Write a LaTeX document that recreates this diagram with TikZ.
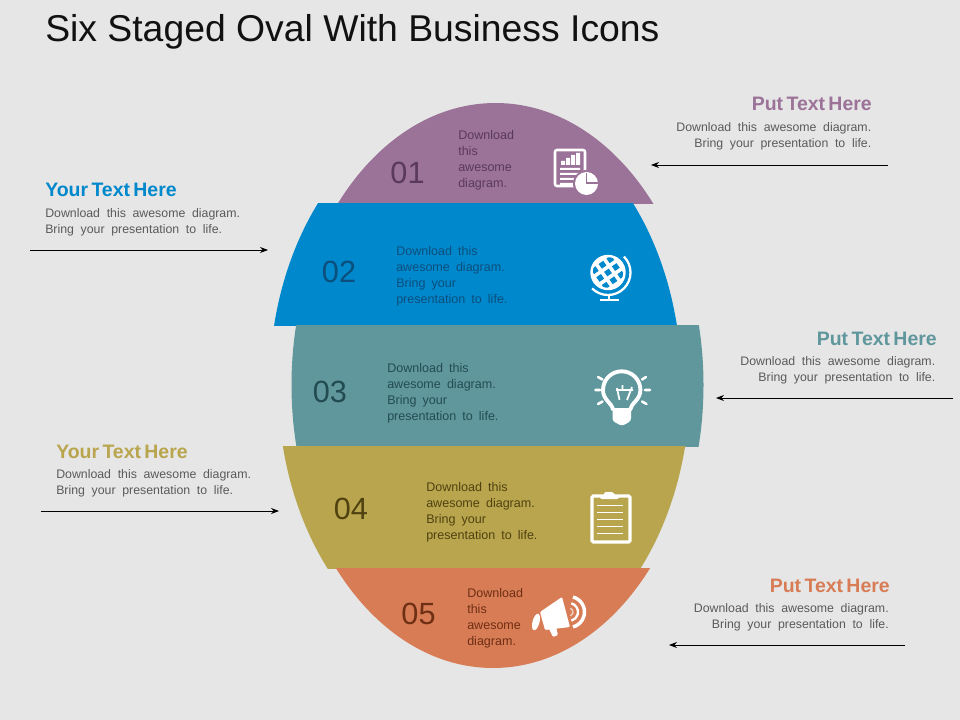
\documentclass[tikz,border=0pt]{standalone}
\usepackage{fontspec}
\setmainfont{Liberation Sans}
\definecolor{bgc}{HTML}{E6E6E6}
\definecolor{c1}{HTML}{9B7298}
\definecolor{c2}{HTML}{0088CC}
\definecolor{c3}{HTML}{5F979C}
\definecolor{c4}{HTML}{B9A54D}
\definecolor{c5}{HTML}{D87C55}
\definecolor{t1}{HTML}{5A3A5C}
\definecolor{t2}{HTML}{0B4F7C}
\definecolor{t3}{HTML}{234B52}
\definecolor{t4}{HTML}{4F4210}
\definecolor{t5}{HTML}{6E2F14}
\definecolor{bodyg}{HTML}{5A5A5A}
\definecolor{titlec}{HTML}{111111}
\newcommand{\bandband}[5]{%
  \begin{scope}\clip (0,#2) rectangle (960,#3);
  \fill[#1] (#4,385) ellipse [x radius=206, y radius=#5];\end{scope}}
\tikzset{
  x=0.75pt,y=-0.75pt,
  num/.style={font=\fontsize{23}{23}\selectfont,inner sep=0pt},
  bandtxt/.style={font={\fontsize{9.4}{12}\selectfont\spaceskip 4.6pt\relax},align=left,anchor=north west,inner sep=0pt},
  headr/.style={font={\fontsize{14.6}{16}\bfseries\selectfont\spaceskip 2.5pt\relax},anchor=base east,inner sep=0pt},
  headl/.style={font={\fontsize{14.6}{16}\bfseries\selectfont\spaceskip 2.5pt\relax},anchor=base west,inner sep=0pt},
  descr/.style={font={\fontsize{9.25}{12}\selectfont\spaceskip 5pt\relax},text=bodyg,align=right,anchor=north east,inner sep=0pt},
  descl/.style={font={\fontsize{9.25}{12}\selectfont\spaceskip 5pt\relax},text=bodyg,align=left,anchor=north west,inner sep=0pt},
  pointer/.style={-{Stealth[length=6pt,width=4.5pt]},line width=0.6pt,black},
  ico/.style={white,line width=1.9pt},
}
\usetikzlibrary{arrows.meta}
\begin{document}
\begin{tikzpicture}
\useasboundingbox (0,0) rectangle (960,720);
\fill[bgc] (0,0) rectangle (960,720);
\node[font=\fontsize{28}{30}\selectfont,anchor=base west,inner sep=0pt,text=titlec] (title) at (45,41.5) {Six Staged Oval With Business Icons};
% bands
\bandband{c1}{90}{204}{495.5}{282}
\bandband{c2}{204}{325}{475.5}{282}
\bandband{c3}{325}{446}{497.5}{282}
\bandband{c4}{446}{568}{484}{282}
\bandband{c5}{568}{690}{493}{283}
% numbers
\node[num,text=t1] (n1) at (407.5,173) {01};
\node[num,text=t2] (n2) at (339,272) {02};
\node[num,text=t3] (n3) at (330,392) {03};
\node[num,text=t4] (n4) at (351,509) {04};
\node[num,text=t5] (n5) at (418.5,614) {05};
% band text
\node[bandtxt,text=t1] (b1) at (458,130.5) {Download\\this\\awesome\\diagram.};
\node[bandtxt,text=t2] (b2) at (396,246.5) {Download this\\awesome diagram.\\Bring your\\presentation to life.};
\node[bandtxt,text=t3] (b3) at (387,363.5) {Download this\\awesome diagram.\\Bring your\\presentation to life.};
\node[bandtxt,text=t4] (b4) at (426,482.5) {Download this\\awesome diagram.\\Bring your\\presentation to life.};
\node[bandtxt,text=t5] (b5) at (467,588.5) {Download\\this\\awesome\\diagram.};
% side text
\node[headr,text=c1] (h1) at (872,111) {Put Text Here};
\node[descr] (d1) at (871.5,122.5) {Download this awesome diagram.\\Bring your presentation to life.};
\node[headl,text=c2] (h2) at (45,197) {Your Text Here};
\node[descl] (d2) at (45,208.5) {Download this awesome diagram.\\Bring your presentation to life.};
\node[headr,text=c3] (h3) at (937,345) {Put Text Here};
\node[descr] (d3) at (935.5,356.5) {Download this awesome diagram.\\Bring your presentation to life.};
\node[headl,text=c4] (h4) at (56,458) {Your Text Here};
\node[descl] (d4) at (56,469.5) {Download this awesome diagram.\\Bring your presentation to life.};
\node[headr,text=c5] (h5) at (890,592) {Put Text Here};
\node[descr] (d5) at (889,603.5) {Download this awesome diagram.\\Bring your presentation to life.};
% arrows
\coordinate (a1s) at (888,165); \coordinate (a1e) at (651,165);
\coordinate (a2s) at (30,250);  \coordinate (a2e) at (268,250);
\coordinate (a3s) at (953,398); \coordinate (a3e) at (716,398);
\coordinate (a4s) at (41,511);  \coordinate (a4e) at (279,511);
\coordinate (a5s) at (905,645); \coordinate (a5e) at (669,645);
\foreach \i in {1,...,5} \draw[pointer] (a\i s) -- (a\i e);
% icon 1: report
\draw[ico,rounded corners=1.5pt] (574,186) -- (555,186) -- (555,150) -- (585,150) -- (585,172);
\fill[white] (561,161) rectangle (565,165) (566,158) rectangle (570,165) (571,155) rectangle (575,165) (576,153) rectangle (580,165);
\fill[white] (560,168) rectangle (580,169.8) (560,173) rectangle (580,174.8) (560,178) rectangle (577,179.8) (560,183) rectangle (574,184.8);
\fill[c1] (586.5,183.5) circle (13.5);
\fill[white] (586.5,183.5) circle (11.5);
\draw[c1,line width=0.9pt] (586.7,173) -- (586.7,183) -- (598,183);
% icon 2: globe
\begin{scope}\clip (608,272.5) circle (17);
\fill[white] (608,272.5) circle (17);
\foreach \k in {-3,...,3} {
  \foreach \m in {-3,...,3} {
    \fill[c2,rotate around={35:(608,272.5)}] ({608+\k*9.5-2.8},{272.5+\m*9.5-2.8}) rectangle ++(5.6,5.6);
}}
\end{scope}
\draw[white,line width=1.8pt] (608,272.5) circle (16.5);
\draw[white,line width=1.7pt] (608,272.5) ++(-45:22.5) arc[start angle=-45,end angle=135,radius=22.5];
\draw[white,line width=2pt] (609,294) -- (609,300);
\draw[white,line width=1.9pt] (600,300) -- (619,300);
% icon 3: bulb
\draw[ico,line width=2.9pt] (613.5,410) .. controls (612,403) and (603,400) .. (603,390) arc[start angle=180,end angle=360,radius=18.7] .. controls (640.4,400) and (631,403) .. (630,410);
\fill[white,rounded corners=2pt] (612.5,408) -- (631,408) -- (631,421) -- (622,426) -- (612.5,421) -- cycle;
\draw[white,line width=1.3pt] (617,388) -- (619.5,400) (632,387) -- (627,400) (616,390) -- (633,390) (622.5,385) -- (622.5,390);
\draw[white,line width=1.9pt,line cap=round] (595.5,390) -- (600,390) (645,390) -- (650,390) (598,377) -- (602.5,379.5) (646,377) -- (642,379.5) (598,404) -- (602.5,401.5) (646.5,404) -- (642,401.5);
% icon 4: clipboard
\draw[white,line width=2.4pt,rounded corners=1pt] (592,496) rectangle (630,542);
\fill[white,rounded corners=1.5pt] (600,496) -- (604,496) -- (604,492) -- (614,492) -- (615,496) -- (619,496) -- (619,499) -- (600,499) -- cycle;
\foreach \y in {505.7,512.7,519.3,526.3,533.3} \draw[white,line width=1pt] (597,\y) -- (623,\y);
% icon 5: megaphone
\draw[white,line width=2.6pt] (569,612) ++(-75:15.5) arc[start angle=-75,end angle=75,radius=15.5];
\draw[white,line width=1.7pt] (569,612) ++(-75:9) arc[start angle=-75,end angle=75,radius=9];
\draw[white!60!c5,line width=1.2pt] (569,612) ++(-70:4) arc[start angle=-70,end angle=70,radius=4];
\fill[white,rounded corners=0.8pt] (562,597) -- (540,612) -- (545,630) -- (570,627) -- cycle;
\fill[white,rotate around={-15:(536,622)}] (536,622) ellipse [x radius=3.5, y radius=8.5];
\fill[white,rounded corners=0.8pt] (548,627) -- (553,637) -- (558,635) -- (556,627) -- cycle;
\end{tikzpicture}
\end{document}
